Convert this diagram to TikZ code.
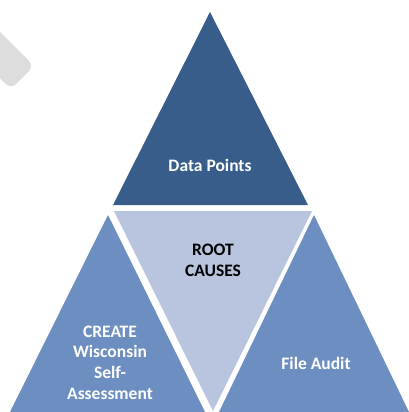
\documentclass[tikz,border=0pt]{standalone}
\usepackage{fontspec}
\setmainfont{Carlito}
\definecolor{darkblue}{HTML}{385D8A}
\definecolor{midblue}{HTML}{6D8EC0}
\definecolor{paleblue}{HTML}{B9C4DE}
\definecolor{shadegray}{HTML}{DDDDDD}
\begin{document}
\begin{tikzpicture}[x=1pt,y=-1pt,
	lbl/.style={anchor=base,align=center,font=\fontsize{17.5}{20.6}\selectfont\bfseries}]
	\useasboundingbox (0,0) rectangle (409,412);
	\clip (0,0) rectangle (409,412);
	% corners of the four triangles
	\node [coordinate] (TT) at (210, 12) {};
	\node [coordinate] (TL) at (113,205) {};
	\node [coordinate] (TR) at (308,205) {};
	\node [coordinate] (ML) at (114,211) {};
	\node [coordinate] (MR) at (312,211) {};
	\node [coordinate] (MB) at (213,411) {};
	\node [coordinate] (LT) at (108,215) {};
	\node [coordinate] (LL) at ( 10,412) {};
	\node [coordinate] (LR) at (205,412) {};
	\node [coordinate] (RT) at (314,215) {};
	\node [coordinate] (RL) at (219,412) {};
	\node [coordinate] (RR) at (409,412) {};
	% grey tab in the corner
	\fill [shadegray,rounded corners=7pt] (-20,12) -- (34,66) -- (11,89) -- (-40,38) -- cycle;
	\fill [darkblue] (TT) -- (TL) -- (TR) -- cycle;
	\fill [paleblue] (ML) -- (MR) -- (MB) -- cycle;
	\fill [midblue] (LT) -- (LL) -- (LR) -- cycle;
	\fill [midblue] (RT) -- (RL) -- (RR) -- cycle;
	% labels (base = last line)
	\node [lbl,white] (data) at (210,171) {Data Points};
	\node [lbl] (root) at (213,276) {ROOT\\CAUSES};
	\node [lbl,white] (create) at (110,399) {CREATE\\Wisconsin\\Self-\\Assessment};
	\node [lbl,white] (audit) at (316,369) {File Audit};
\end{tikzpicture}
\end{document}
